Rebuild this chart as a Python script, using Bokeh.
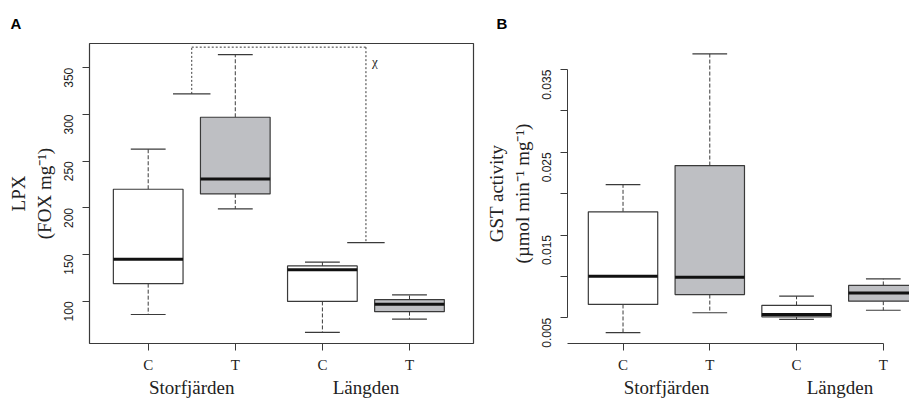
import math
from bokeh.plotting import figure
from bokeh.models import Range1d, FixedTicker, ColumnDataSource, LinearAxis
from bokeh.layouts import row
from bokeh.embed import file_html
from bokeh.resources import INLINE
from bokeh.core.properties import value

# ---------------- data ----------------
sites = ["Storfjärden", "Storfjärden", "Längden", "Längden"]
treatments = ["C", "T", "C", "T"]

lpx_low = [86, 199, 67, 81]
lpx_q1 = [119, 215, 100, 89]
lpx_med = [145, 231, 134, 97]
lpx_q3 = [220, 297, 138, 102]
lpx_high = [263, 364, 142, 107]
lpx_ticks = [100, 150, 200, 250, 300, 350]

gst_low = [0.0032, 0.0056, 0.0048, 0.0059]
gst_q1 = [0.0066, 0.0078, 0.0051, 0.0070]
gst_med = [0.0100, 0.0099, 0.0054, 0.0080]
gst_q3 = [0.0178, 0.0234, 0.0065, 0.0089]
gst_high = [0.0211, 0.0369, 0.0076, 0.0097]
gst_ticks = [0.005, 0.01, 0.015, 0.02, 0.025, 0.03, 0.035]
gst_labelled = [0.005, 0.015, 0.025, 0.035]

# significance bracket in panel A (groups 1-2 vs 3-4)
bracket_left_groups = [1, 2]
bracket_right_groups = [3, 4]
bracket_left_y = 322
bracket_right_y = 163
bracket_top_y = 372
bracket_text = "χ"

# ---------------- style ----------------
FILL = {"C": "white", "T": "#bebfc3"}
LINE = "#3a3a3a"
SERIF = "Liberation Serif"
SANS = "Liberation Sans"
H = 400
BOX_HALF = 0.4
CAP_HALF = 0.2


def draw_boxes(p, low, q1, med, q3, high):
    xs = list(range(1, len(treatments) + 1))
    src = ColumnDataSource(dict(
        x=xs,
        left=[x - BOX_HALF for x in xs], right=[x + BOX_HALF for x in xs],
        cl=[x - CAP_HALF for x in xs], cr=[x + CAP_HALF for x in xs],
        low=low, q1=q1, med=med, q3=q3, high=high,
        fill=[FILL[t] for t in treatments]))
    p.segment(x0="x", x1="x", y0="q3", y1="high", source=src,
              line_color=LINE, line_width=1, line_dash="4 2")
    p.segment(x0="x", x1="x", y0="q1", y1="low", source=src,
              line_color=LINE, line_width=1, line_dash="4 2")
    p.segment(x0="cl", x1="cr", y0="high", y1="high", source=src,
              line_color=LINE, line_width=1.2)
    p.segment(x0="cl", x1="cr", y0="low", y1="low", source=src,
              line_color=LINE, line_width=1.2)
    p.quad(left="left", right="right", bottom="q1", top="q3", source=src,
           fill_color="fill", line_color=LINE, line_width=1.2)
    p.segment(x0="left", x1="right", y0="med", y1="med", source=src,
              line_color="#111111", line_width=3)


def style_axes(p, ylabel, xs, axis_line, panel_letter, letter_offset):
    p.xaxis.ticker = FixedTicker(ticks=xs)
    p.xaxis.major_label_overrides = {x: t for x, t in zip(xs, treatments)}
    p.xaxis.major_label_text_font = SERIF
    p.xaxis.major_label_text_font_size = "15px"
    p.xaxis.major_label_text_color = "#222222"
    p.xaxis.major_label_standoff = 6
    for ax in (p.xaxis, p.yaxis):
        ax.major_tick_out = 7
        ax.major_tick_in = 0
        ax.minor_tick_line_color = None
        ax.major_tick_line_color = LINE
        ax.axis_line_color = axis_line
    p.yaxis.major_label_orientation = math.pi / 2
    p.yaxis.major_label_text_font = SANS
    p.yaxis.major_label_text_font_size = "12px"
    p.yaxis.major_label_text_color = "#222222"
    p.yaxis.major_label_standoff = 14
    p.yaxis.axis_label = ylabel
    p.yaxis.axis_label_text_font = SERIF
    p.yaxis.axis_label_text_font_size = "19px"
    p.yaxis.axis_label_text_font_style = "normal"
    p.yaxis.axis_label_text_color = "#222222"
    p.yaxis.axis_label_standoff = 2
    p.grid.visible = False
    # group labels under the treatment labels, as a second bottom axis
    groups = []
    for i, s in enumerate(sites):
        if not groups or groups[-1][0] != s:
            groups.append([s, []])
        groups[-1][1].append(xs[i])
    centres = [sum(gx) / len(gx) for _, gx in groups]
    gaxis = LinearAxis(ticker=FixedTicker(ticks=centres),
                       major_label_overrides={c: g[0] for c, g in zip(centres, groups)},
                       axis_line_color=None, major_tick_line_color=None,
                       minor_tick_line_color=None, major_tick_out=0, major_tick_in=0,
                       major_label_standoff=1,
                       major_label_text_font=SERIF, major_label_text_font_size="19px",
                       major_label_text_color="#222222")
    p.add_layout(gaxis, "below")
    # panel letter
    p.title.text = panel_letter
    p.title.align = "left"
    p.title.offset = letter_offset
    p.title.standoff = 24
    p.title.text_font = SANS
    p.title.text_font_style = "bold"
    p.title.text_font_size = "15px"
    p.title.text_color = "black"


xs = list(range(1, len(treatments) + 1))

# ---------------- panel A ----------------
pA = figure(width=483, height=H, output_backend="svg", toolbar_location=None,
            x_range=Range1d(0.326, 4.735), y_range=Range1d(55, 375.9),
            min_border_left=89, min_border_right=10, min_border_top=43, min_border_bottom=55)
pA.yaxis.ticker = FixedTicker(ticks=lpx_ticks)
pA.outline_line_color = LINE
pA.outline_line_width = 1.2
style_axes(pA, "LPX\n(FOX mg⁻¹)", xs, None, "A", -79)
draw_boxes(pA, lpx_low, lpx_q1, lpx_med, lpx_q3, lpx_high)

lx = sum(bracket_left_groups) / 2
rx = sum(bracket_right_groups) / 2
pA.segment(x0=[lx, lx, rx], y0=[bracket_left_y, bracket_top_y, bracket_top_y],
           x1=[lx, rx, rx], y1=[bracket_top_y, bracket_top_y, bracket_right_y],
           line_color=LINE, line_width=1, line_dash="2 2")
pA.segment(x0=[lx - 0.215, rx - 0.215], x1=[lx + 0.215, rx + 0.215],
           y0=[bracket_left_y, bracket_right_y], y1=[bracket_left_y, bracket_right_y],
           line_color=LINE, line_width=1.2)
pA.text(x=[rx + 0.07], y=[bracket_top_y - 15], text=[bracket_text],
        text_font=value(SERIF), text_font_size="13px", text_color="#222222",
        text_align="left", text_baseline="middle")

# ---------------- panel B ----------------
bx0 = 0.36
pB = figure(width=426, height=H, output_backend="svg", toolbar_location=None,
            x_range=Range1d(bx0, 4.302), y_range=Range1d(0.00188, 0.03816),
            min_border_left=83, min_border_right=0, min_border_top=43, min_border_bottom=55)
pB.outline_line_color = None
pB.yaxis.ticker = FixedTicker(ticks=gst_ticks)
pB.yaxis.major_label_overrides = {t: (f"{t:.3f}" if t in gst_labelled else "") for t in gst_ticks}
style_axes(pB, "GST activity\n(µmol min⁻¹ mg⁻¹)", xs, LINE, "B", -71)
pB.yaxis.bounds = (gst_ticks[0], gst_ticks[-1])
pB.xaxis[0].bounds = (bx0, xs[-1])
draw_boxes(pB, gst_low, gst_q1, gst_med, gst_q3, gst_high)

layout = row(pA, pB)
open("out.html", "w").write(file_html(layout, INLINE))
